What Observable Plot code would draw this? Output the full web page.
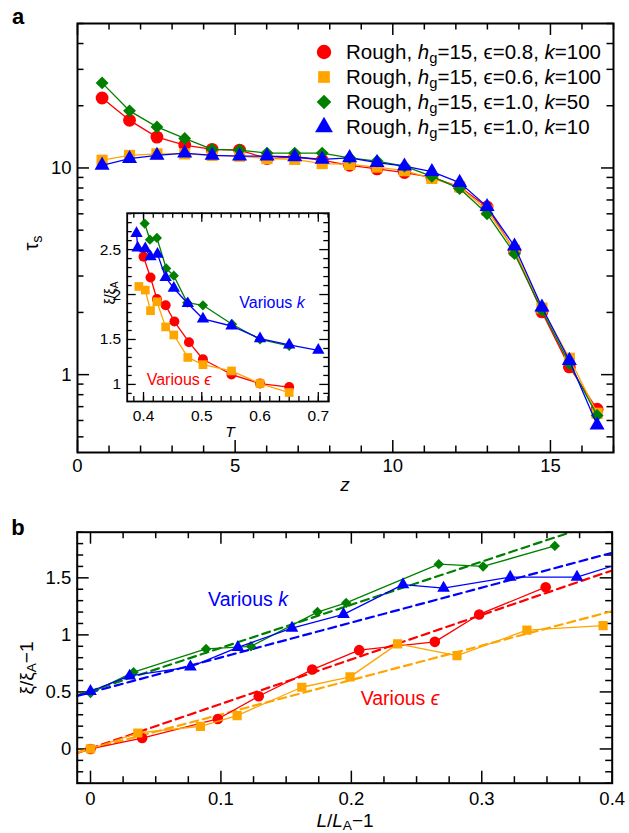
<!DOCTYPE html>
<html><head><meta charset="utf-8">
<script src="https://cdn.jsdelivr.net/npm/d3@7"></script>
<script src="https://cdn.jsdelivr.net/npm/@observablehq/plot@0.6"></script>
<style>
body{margin:0;background:#fff;font-family:"Liberation Sans",Arial,Helvetica,sans-serif;}
#root{position:relative;width:629px;height:833px;overflow:hidden;background:#fff}
#root svg{position:absolute;overflow:visible}
.sub{font-size:0.72em;vertical-align:-0.28em;line-height:0}
</style></head><body><div id="root"></div>
<script>
// ---------- Panel a: tau_s vs z ----------
const zValues = [0.78,1.65,2.52,3.40,4.27,5.14,6.01,6.89,7.76,8.63,9.50,10.37,11.24,12.12,12.99,13.86,14.73,15.60,16.48];
const tauEps08k100 = [21.8,17.0,14.1,12.9,12.3,12.2,11.1,11.3,10.9,10.3,9.9,9.5,9.0,8.1,6.48,3.96,2.01,1.09,0.68];
const tauEps06k100 = [10.9,11.5,11.7,11.7,11.5,11.4,11.1,11.0,10.5,10.4,10.1,9.7,8.9,8.1,6.24,4.0,2.10,1.20,0.65];
const tauEps10k50  = [25.8,18.9,15.8,13.9,12.3,12.2,11.8,11.8,11.8,11.2,10.8,10.2,9.1,7.95,6.0,3.85,2.05,1.13,0.635];
const tauEps10k10  = [10.3,11.1,11.5,11.8,11.5,11.4,11.4,11.3,11.0,11.2,10.6,10.2,9.6,8.5,6.5,4.18,2.12,1.17,0.57];
const legendLabels = [
  "Rough, <i>h</i><span class='sub'>g</span>=15, \u03F5=0.8, <i>k</i>=100",
  "Rough, <i>h</i><span class='sub'>g</span>=15, \u03F5=0.6, <i>k</i>=100",
  "Rough, <i>h</i><span class='sub'>g</span>=15, \u03F5=1.0, <i>k</i>=50",
  "Rough, <i>h</i><span class='sub'>g</span>=15, \u03F5=1.0, <i>k</i>=10"
];
const seriesColors = ["#ff0000","#ffa500","#008000","#0000ff"];
const seriesSymbols = ["circle","square","diamond2","triangle"];
const aXMajor = [0,5,10,15];
const aXMinor = [1,2,3,4,6,7,8,9,11,12,13,14,16,17];
const aYMajor = [1,10];
const aYMinor = [0.5,0.6,0.7,0.8,0.9,2,3,4,5,6,7,8,9,20,30,40,50];

// ---------- Inset: xi/xi_A vs T ----------
const insetT_red    = [0.400,0.412,0.423,0.438,0.453,0.478,0.502,0.551,0.600,0.650];
const insetXi_red   = [2.42,2.19,1.95,1.88,1.70,1.47,1.28,1.11,1.01,0.97];
const insetT_orange = [0.392,0.403,0.412,0.423,0.438,0.452,0.476,0.502,0.551,0.600,0.650];
const insetXi_orange= [2.09,2.05,1.82,1.92,1.64,1.55,1.30,1.22,1.15,1.01,0.91];
const insetT_green  = [0.402,0.411,0.423,0.439,0.452,0.475,0.502,0.552,0.600,0.650];
const insetXi_green = [2.79,2.61,2.63,2.29,2.21,1.91,1.88,1.67,1.50,1.43];
const insetT_blue   = [0.388,0.390,0.403,0.412,0.424,0.438,0.452,0.476,0.502,0.551,0.600,0.650,0.700];
const insetXi_blue  = [2.68,2.52,2.51,2.42,2.45,2.19,2.07,1.90,1.73,1.65,1.51,1.44,1.38];
const inXMajor = [0.4,0.5,0.6,0.7];
const inYMajor = [1,1.5,2,2.5];

// ---------- Panel b: xi/xi_A - 1 vs L/L_A - 1 ----------
const bL_red    = [0,0.0396,0.0976,0.129,0.170,0.206,0.264,0.298,0.349];
const bY_red    = [0.0,0.096,0.263,0.462,0.696,0.866,0.939,1.179,1.418];
const bL_orange = [0,0.0363,0.0843,0.1124,0.162,0.199,0.2355,0.281,0.3346,0.393];
const bY_orange = [0.0,0.14,0.199,0.293,0.541,0.632,0.921,0.819,1.041,1.082];
const bL_green  = [0,0.033,0.0886,0.123,0.174,0.196,0.267,0.301,0.356];
const bY_green  = [0.49,0.673,0.877,0.90,1.20,1.28,1.62,1.60,1.78];
const bL_blue   = [0,0.030,0.0766,0.113,0.1545,0.194,0.2396,0.2707,0.3218,0.373,0.43];
const bY_blue   = [0.506,0.640,0.72,0.89,1.06,1.18,1.44,1.41,1.506,1.506,1.71];
const fitL      = [-0.0102,0.40];
const fitRed    = [-0.035,1.565];
const fitOrange = [-0.03,1.208];
const fitGreen  = [0.47,2.02];
const fitBlue   = [0.465,1.72];
const bXMajor = [0,0.1,0.2,0.3,0.4];
const bYMajor = [0,0.5,1,1.5];

// ---------- helpers ----------
const root = document.getElementById("root");
const FONT = "Liberation Sans, Arial, Helvetica, sans-serif";
const rows = (xs, ys) => xs.map((x,i) => ({x, y: ys[i]}));
const inDom = (vals, [a,b]) => vals.filter(v => v >= Math.min(a,b) - 1e-9 && v <= Math.max(a,b) + 1e-9);
function frameTicks(xMaj, xMin, yMaj, yMin, fw, fh, majLen, minLen, sw) {
  const o = {stroke:"black", strokeWidth: sw};
  const m = [];
  for (const [vals, len] of [[xMaj, majLen],[xMin, minLen]]) {
    m.push(Plot.tickX(vals, {x: d=>d, insetTop: fh-len, ...o}));
    m.push(Plot.tickX(vals, {x: d=>d, insetBottom: fh-len, ...o}));
  }
  for (const [vals, len] of [[yMaj, majLen],[yMin, minLen]]) {
    m.push(Plot.tickY(vals, {y: d=>d, insetRight: fw-len, ...o}));
    m.push(Plot.tickY(vals, {y: d=>d, insetLeft: fw-len, ...o}));
  }
  return m;
}
function seriesMarks(data, color, symbol, r, lw, clip=false) {
  return [
    Plot.line(data, {x:"x", y:"y", stroke: color, strokeWidth: lw, clip}),
    Plot.dot(data, {x:"x", y:"y", fill: color, symbol, r, clip})
  ];
}
function addSvg(svg, left, top) {
  svg.style.left = left + "px"; svg.style.top = top + "px";
  root.appendChild(svg);
}
function label(html, cx, cy, o = {}) {
  const d = document.createElement("div");
  d.innerHTML = html;
  d.style.cssText = `position:absolute;left:${cx}px;top:${cy}px;transform:translate(-50%,-50%)${o.rotate?` rotate(${o.rotate}deg)`:""};white-space:nowrap;font-size:${o.size||18}px;color:${o.color||"black"};line-height:1;font-weight:${o.bold?"bold":"normal"};`;
  root.appendChild(d);
}

// ---------- Panel a ----------
{
  const W = 629, H = 500, mL = 77, mR = 16, mT = 23, mB = 48;
  const xd = [0,17], yd = [0.42,50];
  const fw = W - mL - mR, fh = H - mT - mB;
  const aSeries = [tauEps08k100, tauEps06k100, tauEps10k50, tauEps10k10];
  const rA = [6.4, 6.3, 5.8, 5.6];
  const svg = Plot.plot({
    width: W, height: H, marginLeft: mL, marginRight: mR, marginTop: mT, marginBottom: mB,
    x: {domain: xd}, y: {type: "log", domain: yd},
    style: {fontFamily: FONT, fontSize: "18px", color: "black", background: "transparent", overflow: "visible"},
    marks: [
      ...frameTicks(aXMajor, inDom(aXMinor, xd), aYMajor, inDom(aYMinor, yd), fw, fh, 12, 6.5, 1.5),
      Plot.axisX(aXMajor, {tickSize: 0, tickPadding: 6, label: null, fontSize: 18.5}),
      Plot.axisY(aYMajor, {tickSize: 0, tickPadding: 6, label: null, fontSize: 18.5, tickFormat: d => String(d)}),
      ...aSeries.flatMap((s, i) => seriesMarks(rows(zValues, s), seriesColors[i], seriesSymbols[i], rA[i], 1.3)),
      Plot.frame({stroke: "black", strokeWidth: 2})
    ]
  });
  addSvg(svg, 0, 0);
}

// ---------- Inset ----------
{
  const W = 245, H = 236, mL = 36.7, mR = 6.7, mT = 7.7, mB = 40;
  const xd = [0.372,0.718], yd = [0.81,2.905];
  const fw = W - mL - mR, fh = H - mT - mB;
  const xMinor = d3.range(0.3667, 0.72, 1/60).filter(v => Math.abs(v*10 - Math.round(v*10)) > 1e-6);
  const yMinor = d3.range(0.9, 2.91, 0.1).filter(v => Math.abs(v*2 - Math.round(v*2)) > 1e-6);
  const inS = [[insetT_red, insetXi_red],[insetT_orange, insetXi_orange],[insetT_green, insetXi_green],[insetT_blue, insetXi_blue]];
  const rI = [5, 4.9, 4.6, 4.6];
  const svg = Plot.plot({
    width: W, height: H, marginLeft: mL, marginRight: mR, marginTop: mT, marginBottom: mB,
    x: {domain: xd}, y: {domain: yd},
    style: {fontFamily: FONT, fontSize: "15px", color: "black", background: "transparent", overflow: "visible"},
    marks: [
      Plot.frame({fill: "white", stroke: "none"}),
      ...frameTicks(inXMajor, inDom(xMinor, xd), inYMajor, inDom(yMinor, yd), fw, fh, 9, 5, 1.3),
      Plot.axisX(inXMajor, {tickSize: 0, tickPadding: 8, label: null, fontSize: 15.5}),
      Plot.axisY(inYMajor, {tickSize: 0, tickPadding: 6, label: null, fontSize: 15.5, tickFormat: d => String(d)}),
      ...inS.flatMap(([xs, ys], i) => seriesMarks(rows(xs, ys), seriesColors[i], seriesSymbols[i], rI[i], 1.3)),
      Plot.frame({stroke: "black", strokeWidth: 1.8})
    ]
  });
  addSvg(svg, 90, 205);
}

// ---------- Panel b ----------
{
  const W = 629, H = 333, mL = 76.7, mR = 17.3, mT = 31.7, mB = 50.3;
  const xd = [-0.0102,0.4], yd = [-0.3,1.9];
  const fw = W - mL - mR, fh = H - mT - mB;
  const xMinor = d3.range(0, 0.401, 0.025).filter(v => Math.abs(v*10 - Math.round(v*10)) > 1e-6);
  const yMinor = d3.range(-0.3, 1.91, 0.1).filter(v => Math.abs(v*2 - Math.round(v*2)) > 1e-6);
  const bS = [[bL_red, bY_red],[bL_orange, bY_orange],[bL_green, bY_green],[bL_blue, bY_blue]];
  const fits = [fitRed, fitOrange, fitGreen, fitBlue];
  const rB = [5.3, 5.2, 4.7, 4.7];
  const svg = Plot.plot({
    width: W, height: H, marginLeft: mL, marginRight: mR, marginTop: mT, marginBottom: mB,
    x: {domain: xd}, y: {domain: yd},
    style: {fontFamily: FONT, fontSize: "18px", color: "black", background: "transparent", overflow: "visible"},
    marks: [
      ...frameTicks(bXMajor, inDom(xMinor, xd), bYMajor, inDom(yMinor, yd), fw, fh, 12, 6.5, 1.5),
      Plot.axisX(bXMajor, {tickSize: 0, tickPadding: 9, label: null, fontSize: 18.5, tickFormat: d => String(d)}),
      Plot.axisY(bYMajor, {tickSize: 0, tickPadding: 6, label: null, fontSize: 18.5, tickFormat: d => String(d)}),
      ...fits.map((f, i) => Plot.line(rows(fitL, f), {x:"x", y:"y", stroke: seriesColors[i], strokeWidth: 2.2, strokeDasharray: "8,5", clip: true})),
      ...bS.flatMap(([xs, ys], i) => seriesMarks(rows(xs, ys), seriesColors[i], seriesSymbols[i], rB[i], 1.3, true)),
      Plot.frame({stroke: "black", strokeWidth: 2})
    ]
  });
  addSvg(svg, 0, 500);
}

// ---------- text: panel letters, axis titles, annotations ----------
label("a", 18, 17, {size: 22, bold: true});
label("b", 18, 528, {size: 22, bold: true});
label("<i>z</i>", 345, 484, {size: 19});
label("\u03C4<span class='sub'>s</span>", 31, 243, {size: 20, rotate: -90});
label("<i>T</i>", 230, 432, {size: 15.5});
label("\u03BE/\u03BE<span class='sub'>A</span>", 110, 293, {size: 14, rotate: -90});
label("Various <i>k</i>", 272, 303, {size: 16, color: "#0000ff"});
label("Various <i>\u03F5</i>", 179, 380, {size: 16, color: "#ff0000"});
label("<i>L</i>/<i>L</i><span class='sub'>A</span>\u22121", 345, 820, {size: 19});
label("\u03BE/\u03BE<span class='sub'>A</span>\u22121", 26, 668, {size: 19, rotate: -90});
label("Various <i>k</i>", 248, 600, {size: 19.5, color: "#0000ff"});
label("Various <i>\u03F5</i>", 400, 699, {size: 19.5, color: "#ff0000"});

// ---------- legend (panel a) ----------
{
  const rowsY = [52, 77, 102, 127];
  legendLabels.forEach((txt, i) => {
    const s = d3.create("svg").attr("width", 20).attr("height", 20)
      .style("left", (324 - 10) + "px").style("top", (rowsY[i] - 10) + "px");
    const sym = {circle: d3.symbolCircle, square: d3.symbolSquare, diamond2: d3.symbolDiamond2, triangle: d3.symbolTriangle}[seriesSymbols[i]];
    const rr = [7.2, 6.6, 6.6, 6.6][i];
    s.append("path").attr("transform", "translate(10,10)")
      .attr("d", d3.symbol(sym, Math.PI * rr * rr)()).attr("fill", seriesColors[i]);
    root.appendChild(s.node());
    const d = document.createElement("div");
    d.innerHTML = txt;
    d.style.cssText = `position:absolute;left:346px;top:${rowsY[i]}px;transform:translateY(-50%);white-space:nowrap;font-size:20.5px;line-height:1;`;
    root.appendChild(d);
  });
}
</script></body></html>
